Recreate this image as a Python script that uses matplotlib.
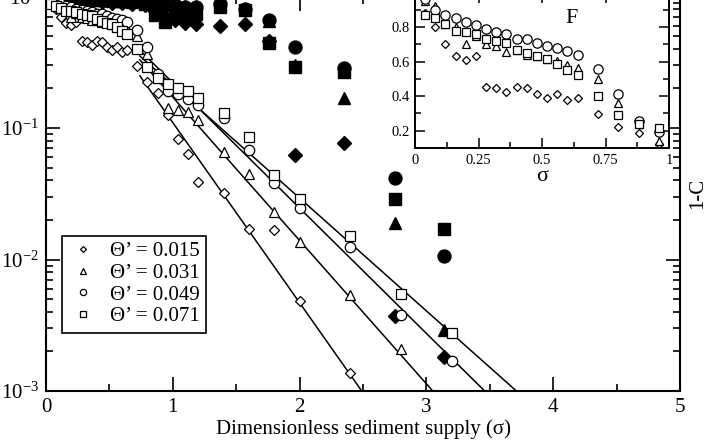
import numpy as np
import matplotlib
matplotlib.use("Agg")
import matplotlib.pyplot as plt
from matplotlib.ticker import LogLocator, MultipleLocator, NullFormatter, LogFormatterMathtext, FixedLocator

plt.rcParams["font.family"] = ["Liberation Serif", "DejaVu Serif"]
plt.rcParams["mathtext.fontset"] = "stix"

# -----------------------------
# Data
# -----------------------------
theta = ["0.015", "0.031", "0.049", "0.071"]

# F (inset) for sigma < 1, also drawn as the first part of 1-C in the main plot
sigma_F = [0.04, 0.08, 0.12, 0.16, 0.20, 0.24, 0.28, 0.32, 0.36, 0.40,
           0.44, 0.48, 0.52, 0.56, 0.60, 0.64, 0.72, 0.80, 0.88, 0.96]
F_015 = [0.88, 0.80, 0.70, 0.63, 0.61, 0.635, 0.455, 0.45, 0.427, 0.455,
         0.45, 0.415, 0.39, 0.41, 0.38, 0.39, 0.295, 0.224, 0.186, 0.125]
F_031 = [0.95, 0.92, 0.82, 0.80, 0.70, 0.746, 0.70, 0.69, 0.658, 0.665,
         0.641, 0.635, 0.616, 0.603, 0.583, 0.564, 0.497, 0.363, 0.238, 0.142]
F_049 = [0.96, 0.90, 0.87, 0.85, 0.83, 0.81, 0.79, 0.77, 0.76, 0.73,
         0.73, 0.71, 0.69, 0.68, 0.66, 0.64, 0.555, 0.41, 0.257, 0.19]
F_071 = [0.871, 0.85, 0.82, 0.78, 0.77, 0.76, 0.73, 0.72, 0.71, 0.67,
         0.65, 0.633, 0.614, 0.585, 0.55, 0.52, 0.40, 0.29, 0.24, 0.215]

# 1-C beyond sigma = 1 (open symbols)
sigma_C = [1.04, 1.12, 1.2, 1.4, 1.6, 1.8, 2.0, 2.4, 2.8, 3.2]
C_015 = [0.082, 0.063, 0.039, 0.032, 0.017, 0.0168, 0.0048, 0.00137, np.nan, np.nan]
C_031 = [0.138, 0.133, 0.115, 0.066, 0.045, 0.023, 0.0136, 0.0054, 0.0021, np.nan]
C_049 = [0.18, 0.165, 0.15, 0.12, 0.068, 0.038, 0.0247, 0.0124, 0.0038, 0.0017]
C_071 = [0.20, 0.19, 0.17, 0.13, 0.085, 0.044, 0.029, 0.0151, 0.0055, 0.00276]

# filled symbols
sigma_fill = [0.04, 0.12, 0.2, 0.28, 0.36, 0.44, 0.52, 0.6, 0.68, 0.78, 0.86,
              0.94, 1.02, 1.1, 1.18, 1.37, 1.57, 1.76, 1.96, 2.35, 2.75, 3.14]
fill_015 = [0.95, 0.94, 0.93, 0.93, 0.92, 0.91, 0.90, 0.89, 0.88, 0.86, 0.78,
            0.70, 0.66, 0.63, 0.62, 0.60, 0.62, 0.46, 0.062, 0.077, 0.0037, 0.0018]
fill_031 = [0.98, 0.97, 0.97, 0.96, 0.95, 0.95, 0.94, 0.93, 0.92, 0.90, 0.88,
            0.86, 0.85, 0.84, 0.85, 0.86, 0.81, 0.65, 0.30, 0.169, 0.019, 0.0029]
fill_049 = [0.99, 0.98, 0.97, 0.97, 0.96, 0.96, 0.95, 0.95, 0.94, 0.92, 0.90,
            0.86, 0.86, 0.83, 0.83, 0.88, 0.80, 0.66, 0.41, 0.286, 0.042, 0.0106]
fill_071 = [0.97, 0.96, 0.96, 0.95, 0.94, 0.94, 0.93, 0.92, 0.91, 0.88, 0.72,
            0.64, 0.70, 0.72, 0.74, 0.83, 0.79, 0.44, 0.29, 0.267, 0.029, 0.017]

# exponential fits: log10(1-C) = a + b*sigma
fit_a = [0.411, 0.3245, 0.297, 0.183]
fit_b = [-1.37, -1.09, -0.953, -0.858]
fit_range = [0.74, 4.2]

markers = ["D", "^", "o", "s"]
sizes = [5.0, 7.0, 7.5, 7.0]
F_all = [F_015, F_031, F_049, F_071]
C_all = [C_015, C_031, C_049, C_071]
fill_all = [fill_015, fill_031, fill_049, fill_071]

fig = plt.figure(figsize=(7.06, 4.46), dpi=100)
ax = fig.add_axes([46 / 706, 55 / 446, 634 / 706, 394.5 / 446])

sig_line = np.array(fit_range)
for a, b in zip(fit_a, fit_b):
    ax.plot(sig_line, 10 ** (a + b * sig_line), color="black", lw=1.1, zorder=2)

handles = []
for i in range(4):
    ax.plot(sigma_fill, fill_all[i], ls="none", marker=markers[i], ms=sizes[i] + 1.8,
            color="black", zorder=3)
    xs = sigma_F + sigma_C
    ys = F_all[i] + C_all[i]
    h, = ax.plot(xs, ys, ls="none", marker=markers[i], ms=sizes[i], mfc="white",
                 mec="black", mew=0.9, zorder=4, label="Θ’ = " + theta[i])
    handles.append(h)

ax.set_yscale("log")
ax.set_xlim(0, 5)
ax.set_ylim(1e-3, 1)
ax.xaxis.set_major_locator(MultipleLocator(1))
ax.xaxis.set_minor_locator(MultipleLocator(0.5))
ax.yaxis.set_major_locator(LogLocator(base=10))
ax.yaxis.set_major_formatter(LogFormatterMathtext())
ax.yaxis.set_minor_locator(LogLocator(base=10, subs=np.arange(2, 10)))
ax.yaxis.set_minor_formatter(NullFormatter())
ax.tick_params(which="both", direction="in", top=True, right=True, width=1.2, labelsize=15)
ax.tick_params(which="major", length=10, pad=5)
ax.tick_params(which="minor", length=5)
for s in ax.spines.values():
    s.set_linewidth(1.5)

ax.set_xlabel("Dimensionless sediment supply (σ)", fontsize=15, labelpad=2)
ax.yaxis.set_label_position("right")
ax.set_ylabel("1-C", fontsize=15, labelpad=6)

leg = ax.legend(handles=handles, loc="lower left", bbox_to_anchor=(0.025, 0.148),
                fontsize=15, markerscale=0.6, frameon=True, fancybox=False,
                edgecolor="black", framealpha=1, borderpad=0.3, labelspacing=0.1,
                handletextpad=0.6, handlelength=1.4, borderaxespad=0)
leg.get_frame().set_linewidth(1.2)

# -----------------------------
# Inset: F vs sigma
# -----------------------------
axi = fig.add_axes([415 / 706, (446 - 148) / 446, 254 / 706, 155.5 / 446])
for i in range(4):
    axi.plot(sigma_F, F_all[i], ls="none", marker=markers[i], ms=sizes[i] - 0.8,
             mfc="white", mec="black", mew=0.9)
axi.set_xlim(0, 1)
axi.set_ylim(0.1, 1.0)
axi.xaxis.set_major_locator(FixedLocator([0, 0.25, 0.5, 0.75, 1]))
axi.set_xticklabels(["0", "0.25", "0.5", "0.75", "1"])
axi.xaxis.set_minor_locator(MultipleLocator(0.125))
axi.yaxis.set_major_locator(FixedLocator([0.2, 0.4, 0.6, 0.8]))
axi.set_yticklabels(["0.2", "0.4", "0.6", "0.8"])
axi.yaxis.set_minor_locator(MultipleLocator(0.1))
axi.tick_params(which="both", direction="in", top=True, right=True, width=1.1, labelsize=10.5)
axi.tick_params(which="major", length=7, pad=4)
axi.tick_params(which="minor", length=4)
for s in axi.spines.values():
    s.set_linewidth(1.4)
axi.set_xlabel("σ", fontsize=16, labelpad=0)
axi.text(0.618, 0.83, "F", transform=axi.transAxes, fontsize=16, ha="center", va="center")

fig.savefig("out.png", dpi=100)
